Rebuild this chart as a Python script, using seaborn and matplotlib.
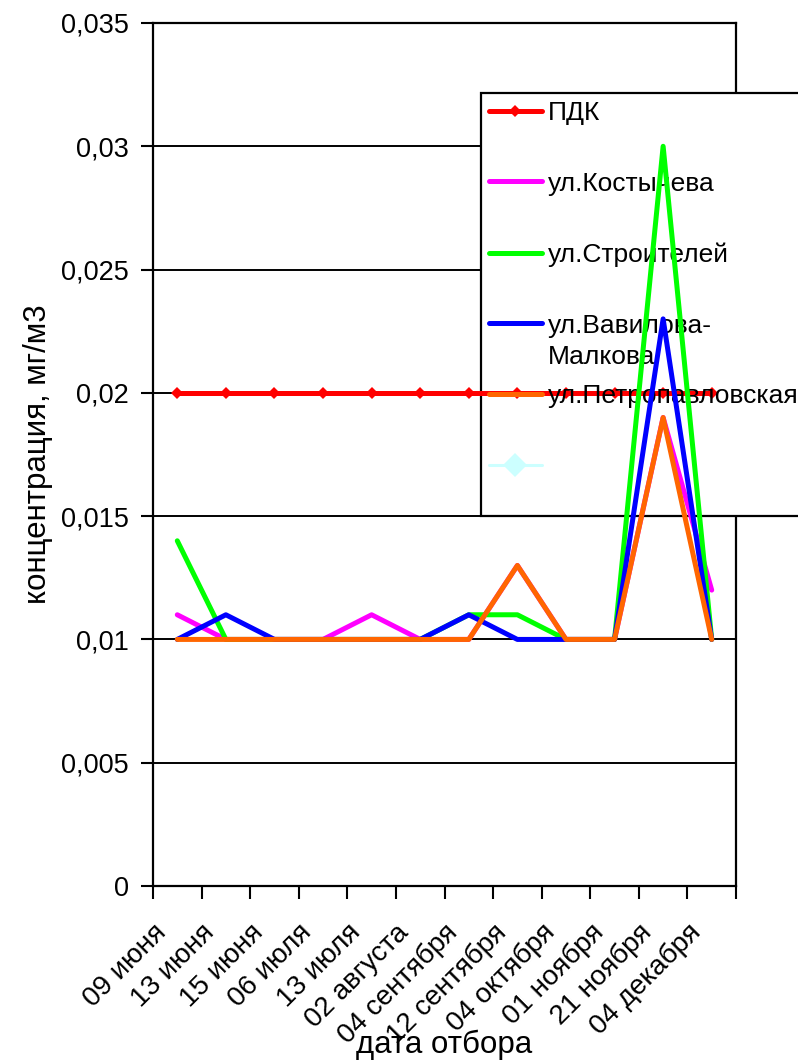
import numpy as np
import pandas as pd
import matplotlib
matplotlib.use("Agg")
import matplotlib.pyplot as plt
from matplotlib.patches import Rectangle
import seaborn as sns
from matplotlib.lines import Line2D

# ---- data ----
dates = ["09 июня", "13 июня", "15 июня", "06 июля", "13 июля", "02 августа",
         "04 сентября", "12 сентября", "04 октября", "01 ноября", "21 ноября", "04 декабря"]
pdk = [0.020, 0.020, 0.020, 0.020, 0.020, 0.020, 0.020, 0.020, 0.020, 0.020, 0.020, 0.020]
kostycheva = [0.011, 0.010, 0.010, 0.010, 0.011, 0.010, 0.010, 0.013, 0.010, 0.010, 0.019, 0.012]
stroiteley = [0.014, 0.010, 0.010, 0.010, 0.010, 0.010, 0.011, 0.011, 0.010, 0.010, 0.030, 0.010]
vavilova = [0.010, 0.011, 0.010, 0.010, 0.010, 0.010, 0.011, 0.010, 0.010, 0.010, 0.023, 0.010]
petropavl = [0.010, 0.010, 0.010, 0.010, 0.010, 0.010, 0.010, 0.013, 0.010, 0.010, 0.019, 0.010]
series_labels = ["ПДК", "ул.Костычева", "ул.Строителей", "ул.Вавилова-",
                 "ул.Петропавловская", " "]
label_cont = "Малкова"
yticks = [0.0, 0.005, 0.010, 0.015, 0.020, 0.025, 0.030, 0.035]
ytick_labels = ["0", "0,005", "0,01", "0,015", "0,02", "0,025", "0,03", "0,035"]

sns.set_style("white")
plt.rcParams["font.family"] = ["Liberation Sans", "DejaVu Sans"]
plt.rcParams["text.color"] = "black"
plt.rcParams["axes.labelcolor"] = "black"
plt.rcParams["xtick.color"] = "black"
plt.rcParams["ytick.color"] = "black"

W, H = 798, 1062
fig = plt.figure(figsize=(W / 100, H / 100), dpi=100)
L, R, T, B = 153, 736, 23, 886
ax = fig.add_axes([L / W, 1 - B / H, (R - L) / W, (B - T) / H])

x = np.arange(len(dates))
df = pd.DataFrame({"date_idx": x, "pdk": pdk, "k": kostycheva, "s": stroiteley,
                   "v": vavilova, "p": petropavl})

colors = ["#FF0000", "#FF00FF", "#00FF00", "#0000FF", "#FF6600", "#CCFFFF"]
cols = ["pdk", "k", "s", "v", "p"]
zorders = [3.05, 4, 5, 6, 7]
lw = 3.6
for i, c in enumerate(cols):
    kw = {}
    if c == "pdk":
        kw = dict(marker="D", markersize=6.5, markeredgewidth=0)
    sns.lineplot(data=df, x="date_idx", y=c, ax=ax, color=colors[i], lw=lw,
                 zorder=zorders[i], legend=False, **kw)

handles = [Line2D([], [], color=colors[0], lw=lw, marker="D", markersize=6.5, markeredgewidth=0)]
for i in range(1, 5):
    handles.append(Line2D([], [], color=colors[i], lw=lw))
handles.append(Line2D([], [], color=colors[5], lw=2.2, marker="D", markersize=12, markeredgewidth=0))

ax.set_xlim(-0.5, len(dates) - 0.5)
ax.set_ylim(0, 0.035)
ax.set_yticks(yticks)
ax.set_yticklabels(ytick_labels, fontsize=19.5)
ax.set_xticks(np.arange(-0.5, len(dates), 1))
ax.set_xticklabels([])
ax.set_xticks(x - 0.12, minor=True)
ax.set_xticklabels(dates, minor=True, rotation=45, ha="right", va="bottom",
                   rotation_mode="anchor", fontsize=20)
ax.tick_params(axis="x", which="major", length=9, width=1.5, direction="out",
               bottom=True, color="black")
ax.tick_params(axis="x", which="minor", length=0, pad=37.5, bottom=True)
ax.tick_params(axis="y", length=9, width=1.5, pad=8.5, left=True, color="black")

ax.yaxis.grid(True, color="black", lw=1.4)
ax.xaxis.grid(False)
ax.set_axisbelow(True)
for s in ax.spines.values():
    s.set_visible(True)
    s.set_color("black")
    s.set_linewidth(1.6)

ax.set_xlabel("дата отбора", fontsize=22.5)
ax.xaxis.set_label_coords(0.5, -0.167)
ax.set_ylabel("концентрация, мг/м3", fontsize=22.5)
ax.yaxis.set_label_coords(-0.172, 0.5)

# legend box (white, black frame), covering the grid and right spine
box = Rectangle((481 / W, 1 - 516 / H), (W + 40 - 481) / W, (516 - 93) / H,
                transform=fig.transFigure, facecolor="white", edgecolor="black",
                linewidth=1.6, zorder=3, clip_on=False)
ax.add_patch(box)

leg = ax.legend(handles, series_labels, loc="upper left",
                bbox_to_anchor=(481 / W, 1 - 93 / H), bbox_transform=fig.transFigure,
                borderaxespad=0, frameon=False, fontsize=19,
                handlelength=2.0, handletextpad=0.25,
                borderpad=0.3, labelspacing=1.77)
leg.set_zorder(3.1)
ax.annotate(label_cont, xy=(0, 0), xycoords=leg.get_texts()[3],
            xytext=(0, -5.3), textcoords="offset points", ha="left", va="top",
            fontsize=19, zorder=3.2)

fig.savefig("out.png", dpi=100)
